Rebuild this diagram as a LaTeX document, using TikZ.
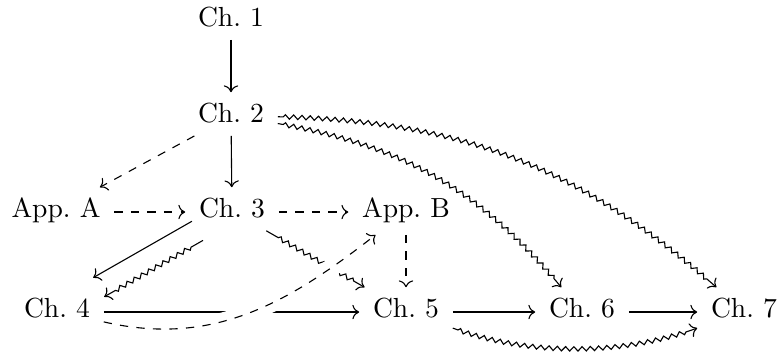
\documentclass[tikz,border=0pt]{standalone}
\usetikzlibrary{arrows.meta,decorations.pathmorphing}
\begin{document}
\begin{tikzpicture}[x=0.3623pt,y=-0.3623pt,
  lbl/.style={inner xsep=4.8pt, inner ysep=4pt, text height=6.94pt, text depth=1.94pt, anchor=base},
  arr/.style={-{Computer Modern Rightarrow}, line width=0.4pt},
  dsh/.style={arr, dash pattern=on 3pt off 3pt},
  sqg/.style={arr, decorate, decoration={zigzag, segment length=3pt, amplitude=0.8pt, pre length=2pt, post length=3.5pt}},
  gapline/.style={draw=white, line width=6.5pt}
]
\useasboundingbox (0,0) rectangle (778,352);
\node[lbl] (c1) at (231,27) {Ch.\ 1};
\node[lbl] (c2) at (231,123) {Ch.\ 2};
\node[lbl] (appA) at (56,218) {App.\ A};
\node[lbl] (c3) at (232,218) {Ch.\ 3};
\node[lbl] (appB) at (406,218) {App.\ B};
\node[lbl] (c4) at (57,318) {Ch.\ 4};
\node[lbl] (c5) at (406,318) {Ch.\ 5};
\node[lbl] (c6) at (582,318) {Ch.\ 6};
\node[lbl] (c7) at (744,318) {Ch.\ 7};
% vertical
\draw[arr, shorten <=-1.5pt] (c1) -- (c2);
\draw[arr, shorten <=-1.5pt] (c2) -- (c3);
\draw[dsh, shorten <=-3pt] (c2) -- (appA);
\draw[dsh] (appA.mid east) -- (c3.mid west);
\draw[dsh] (c3.mid east) -- (appB.mid west);
\draw[dsh] (appB) -- (c5);
% Ch.3 to Ch.4 pair
\draw[arr, shorten <=-3pt, transform canvas={shift={(-2pt,3.47pt)}}] (c3) -- (c4);
\draw[sqg, shorten <=-3pt, transform canvas={shift={(2pt,-3.47pt)}}] (c3) -- (c4);
\draw[sqg, shorten <=-3pt] (c3) -- (c5);
% bottom row
\draw[arr] (c4.mid east) -- (c5.mid west);
\draw[arr] (c5.mid east) -- (c6.mid west);
\draw[arr] (c6.mid east) -- (c7.mid west);
\draw[sqg] (c5) to[out=-20, in=200, looseness=0.85] (c7);
% long squiggles
\draw[sqg] (c2) to[bend left=20] (c6);
\draw[sqg] (c2) to[bend left=20] (c7);
% crossing dashed curve
\draw[gapline] (c4) to[out=-13, in=218] (appB);
\draw[dsh] (c4) to[out=-13, in=218] (appB);
\end{tikzpicture}
\end{document}
